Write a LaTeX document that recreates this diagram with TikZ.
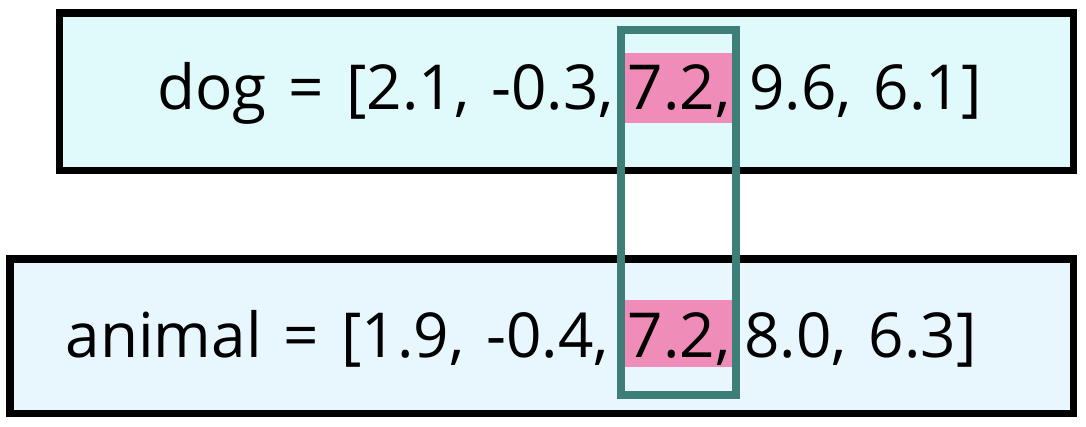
\documentclass[tikz,border=0pt]{standalone}
\usepackage{fontspec}
\setmainfont{Open Sans}
\definecolor{topfill}{HTML}{E0F9FB}
\definecolor{botfill}{HTML}{E8F6FE}
\definecolor{hl}{HTML}{F08CB8}
\definecolor{tealc}{HTML}{3D7F78}
\newcommand{\myvecfont}{\fontsize{62}{72}\selectfont\spaceskip=22pt plus 5pt minus 3pt\relax}
\begin{document}
\begin{tikzpicture}[x=1pt,y=-1pt,
  vecbox/.style={draw=black,line width=7.5pt},
  hlbox/.style={fill=hl},
  txt/.style={inner sep=0pt,font=\myvecfont},
  dimframe/.style={draw=tealc,line width=8pt}]
\useasboundingbox (0,0) rectangle (1086,426);
% boxes
\path[vecbox,fill=topfill] (59.5,13) rectangle (1073.5,170.5);
\path[vecbox,fill=botfill] (10,259) rectangle (1073.5,413.5);
% highlights
\fill[hlbox] (624.5,53) rectangle (732,123);
\fill[hlbox] (624.5,300) rectangle (732,367);
% text
\node[txt,anchor=base east] (dogL) at (614,109) {dog = [2.1, -0.3,};
\node[txt,anchor=base] (dogM) at (679,109) {7.2,};
\node[txt,anchor=base west] (dogR) at (749,109) {9.6, 6.1]};
\node[txt,anchor=base east] (aniL) at (609,357) {animal = [1.9, -0.4,};
\node[txt,anchor=base] (aniM) at (679,357) {7.2,};
\node[txt,anchor=base west] (aniR) at (744,357) {8.0, 6.3]};
% dimension frame
\draw[dimframe] (620.5,29.5) rectangle (736,395);
\end{tikzpicture}
\end{document}
